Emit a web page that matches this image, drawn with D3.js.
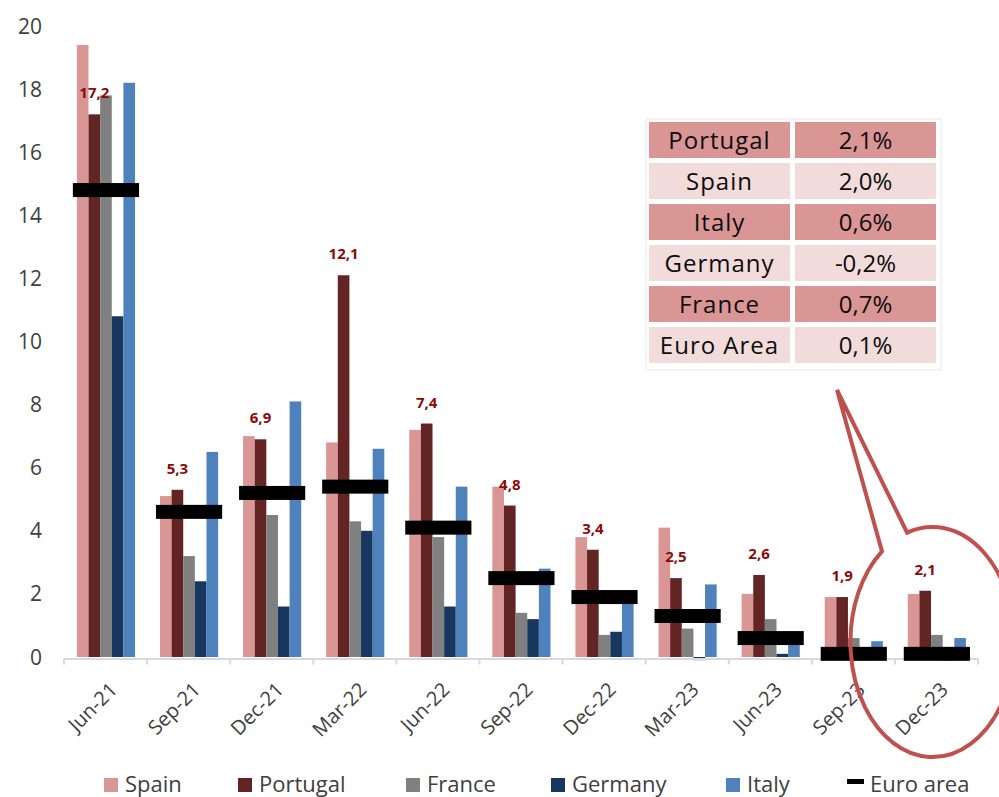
<!DOCTYPE html>
<html>
<head>
<meta charset="utf-8">
<script src="https://cdn.jsdelivr.net/npm/d3@7"></script>
<style>
  html, body { margin: 0; padding: 0; background: #fff; }
  svg { display: block; font-family: "Open Sans", sans-serif; }
</style>
</head>
<body>
<svg id="chart" width="999" height="797"></svg>
<script>
// ---------------- DATA ----------------
const categories = ["Jun-21","Sep-21","Dec-21","Mar-22","Jun-22","Sep-22","Dec-22","Mar-23","Jun-23","Sep-23","Dec-23"];
const seriesNames = ["Spain","Portugal","France","Germany","Italy"];
const spain    = [19.4, 5.1, 7.0, 6.8, 7.2, 5.4, 3.8, 4.1, 2.0, 1.9, 2.0];
const portugal = [17.2, 5.3, 6.9, 12.1, 7.4, 4.8, 3.4, 2.5, 2.6, 1.9, 2.1];
const france   = [17.8, 3.2, 4.5, 4.3, 3.8, 1.4, 0.7, 0.9, 1.2, 0.6, 0.7];
const germany  = [10.8, 2.4, 1.6, 4.0, 1.6, 1.2, 0.8, -0.1, 0.1, -0.1, -0.1];
const italy    = [18.2, 6.5, 8.1, 6.6, 5.4, 2.8, 1.8, 2.3, 0.5, 0.5, 0.6];
const euroArea = [14.8, 4.6, 5.2, 5.4, 4.1, 2.5, 1.9, 1.3, 0.6, 0.1, 0.1];
const portugalLabels = ["17,2","5,3","6,9","12,1","7,4","4,8","3,4","2,5","2,6","1,9","2,1"];
const yTicks = [0, 2, 4, 6, 8, 10, 12, 14, 16, 18, 20];
const tableCountries = ["Portugal","Spain","Italy","Germany","France","Euro Area"];
const tableValues    = ["2,1%","2,0%","0,6%","-0,2%","0,7%","0,1%"];
const legendNames = ["Spain","Portugal","France","Germany","Italy","Euro area"];

const seriesValues = [spain, portugal, france, germany, italy];
const colors = {Spain:"#DA9694", Portugal:"#632523", France:"#808080", Germany:"#17375E", Italy:"#4F81BD"};

// ---------------- LAYOUT ----------------
const svg = d3.select("#chart");
const x0 = d3.scaleBand().domain(categories).range([64, 978]).paddingInner(0).paddingOuter(0);
const bw = x0.bandwidth();
const x1 = d3.scaleBand().domain(seriesNames).range([bw * 0.155, bw * 0.855]).padding(0);
const y = d3.scaleLinear().domain([0, 20]).range([657, 26]);

const textColor = "#404040";

// Y labels
svg.append("g").selectAll("text").data(yTicks).join("text")
  .attr("x", 42).attr("y", d => y(d)).attr("dy", "0.36em")
  .attr("text-anchor", "end").attr("font-size", 21).attr("fill", textColor)
  .text(d => d);

// Bars
const rows = categories.map((c, i) => ({cat: c, i}));
const g = svg.append("g");
seriesNames.forEach((s, si) => {
  g.selectAll(null).data(rows).join("rect")
    .attr("x", d => x0(d.cat) + x1(s))
    .attr("width", x1.bandwidth())
    .attr("y", d => y(Math.max(0, seriesValues[si][d.i])))
    .attr("height", d => Math.abs(y(seriesValues[si][d.i]) - y(0)))
    .attr("fill", colors[s]);
});

// X axis
const xAxis = d3.axisBottom(x0).tickSize(0).tickFormat("");
const axG = svg.append("g").attr("transform", `translate(0,${y(0) + 1.5})`).call(xAxis);
axG.select(".domain").attr("stroke", "#D9D9D9").attr("stroke-width", 2);
const tickPositions = categories.map(c => x0(c)).concat([x0(categories[categories.length-1]) + bw]);
axG.selectAll("line.bt").data(tickPositions).join("line").attr("class","bt")
  .attr("x1", d => d).attr("x2", d => d).attr("y1", 0).attr("y2", 6)
  .attr("stroke", "#D9D9D9").attr("stroke-width", 2);

// X labels
svg.append("g").selectAll("text").data(categories).join("text")
  .attr("transform", d => `translate(${x0(d) + bw/2 + 13},${y(0) + 34}) rotate(-45)`)
  .attr("text-anchor", "end").attr("font-size", 20).attr("fill", textColor)
  .text(d => d);

// Euro area markers
svg.append("g").selectAll("rect").data(rows).join("rect")
  .attr("x", d => x0(d.cat) + x1(seriesNames[0]) - 4)
  .attr("width", x1.bandwidth() * 5 + 8)
  .attr("y", d => y(euroArea[d.i]) - 7)
  .attr("height", 14)
  .attr("fill", "#000");

// Portugal labels
svg.append("g").selectAll("text").data(rows).join("text")
  .attr("x", d => x0(d.cat) + x1("Portugal") + x1.bandwidth()/2)
  .attr("y", d => y(portugal[d.i]) - 16)
  .attr("text-anchor", "middle").attr("font-size", 15).attr("font-weight", "bold")
  .attr("fill", "#8B0A0A")
  .text(d => portugalLabels[d.i]);

// Table
const tbl = svg.append("g");
const tX1 = 649, tW1 = 141, tX2 = 795, tW2 = 141, tY = 122, rH = 36, rP = 41;
tbl.append("rect").attr("x", 646).attr("y", 119).attr("width", 295).attr("height", 251)
  .attr("fill", "#fff").attr("stroke", "#E8E8E8").attr("stroke-width", 1);
tableCountries.forEach((c, i) => {
  const fill = i % 2 === 0 ? "#DA9694" : "#F2DCDB";
  tbl.append("rect").attr("x", tX1).attr("y", tY + i*rP).attr("width", tW1).attr("height", rH).attr("fill", fill);
  tbl.append("rect").attr("x", tX2).attr("y", tY + i*rP).attr("width", tW2).attr("height", rH).attr("fill", fill);
  tbl.append("text").attr("x", tX1 + tW1/2).attr("y", tY + i*rP + rH/2).attr("dy", "0.36em")
    .attr("text-anchor", "middle").attr("font-size", 24).attr("letter-spacing", 1).attr("fill", "#0d0d0d").text(c);
  tbl.append("text").attr("x", tX2 + tW2/2).attr("y", tY + i*rP + rH/2).attr("dy", "0.36em")
    .attr("text-anchor", "middle").attr("font-size", 24).attr("fill", "#0d0d0d").text(tableValues[i]);
});

// Callout (ellipse with wedge) around last category
const lastCat = categories[categories.length - 1];
const cx = x0(lastCat) + bw/2 - 4, cy = y(0) - 15, rx = 82, ry = 115;
const tip = [837, 390];
const aA = -128 * Math.PI/180, aB = -108 * Math.PI/180;
const pA = [cx + rx*Math.cos(aA), cy + ry*Math.sin(aA)];
const pB = [cx + rx*Math.cos(aB), cy + ry*Math.sin(aB)];
svg.append("path")
  .attr("d", `M${pA[0]},${pA[1]} L${tip[0]},${tip[1]} L${pB[0]},${pB[1]} A${rx},${ry} 0 1 1 ${pA[0]},${pA[1]} Z`)
  .attr("fill", "none").attr("stroke", "#C0504D").attr("stroke-width", 4).attr("stroke-linejoin", "miter");

// Legend
const legX = [104, 238, 406, 551, 726, 847];
const lg = svg.append("g");
legendNames.forEach((n, i) => {
  if (i < 5) {
    lg.append("rect").attr("x", legX[i]).attr("y", 778).attr("width", 14).attr("height", 14).attr("fill", colors[n]);
    lg.append("text").attr("x", legX[i] + 21).attr("y", 792).attr("font-size", 22).attr("fill", textColor).text(n);
  } else {
    lg.append("rect").attr("x", legX[i]).attr("y", 779).attr("width", 17).attr("height", 5).attr("fill", "#000");
    lg.append("text").attr("x", legX[i] + 23).attr("y", 792).attr("font-size", 22).attr("fill", textColor).text(n);
  }
});
</script>
</body>
</html>
